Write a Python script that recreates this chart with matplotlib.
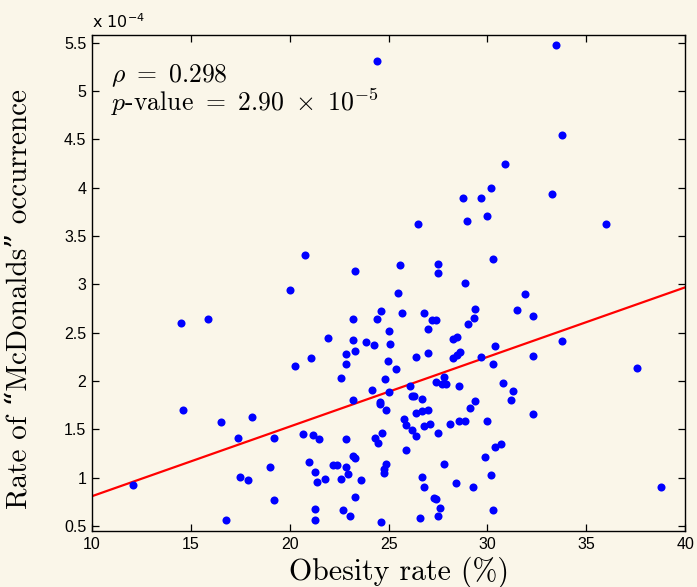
import matplotlib
matplotlib.use("Agg")
import matplotlib.pyplot as plt
import numpy as np
from matplotlib.ticker import FuncFormatter

# obesity rate (%) and "McDonalds" rate (in units of 1e-4)
obesity = [
    24.39, 33.48, 33.79, 30.89, 30.18, 28.78, 29.69, 33.28, 26.48, 28.98,
    29.97, 35.98, 30.29, 23.28, 25.59, 27.48, 27.48, 28.89, 25.50, 31.88,
    20.78, 19.99,
    23.18, 24.60, 24.39, 25.67, 26.79, 27.21, 27.39, 26.99, 25.00, 25.08,
    23.87, 24.27, 23.18, 23.28, 22.87, 22.87, 24.98, 26.38, 26.99, 28.27,
    28.47, 29.00, 29.30, 29.38, 31.49, 32.29, 28.61, 28.47, 28.27, 30.38,
    29.69, 30.28, 32.29, 33.79, 37.58, 38.78, 25.38, 24.80, 25.00, 26.08,
    26.19, 26.31, 26.69, 27.38, 27.68, 27.80, 27.90, 28.57, 30.78, 31.28,
    31.17, 29.38, 29.10, 32.29, 24.58, 24.58, 24.88, 23.18, 25.79, 25.89,
    26.38, 26.69, 26.99, 26.79, 27.09, 26.18, 26.38, 27.48, 28.09, 28.57,
    28.88, 29.97, 25.89, 24.29, 24.49, 24.68, 22.87, 23.18, 23.28, 22.87,
    22.97, 22.60, 23.58, 24.78, 24.88, 24.78, 23.28, 22.67, 23.04, 24.60,
    26.69, 26.79, 27.29, 27.41, 27.58, 27.48, 26.58, 27.80, 28.39, 29.29,
    29.87, 30.18, 30.29, 30.38, 30.69, 22.57, 24.17,
    14.49, 15.88, 21.96, 21.10, 20.28, 14.59, 16.50, 18.08, 17.39, 19.20,
    20.68, 21.18, 21.49, 18.99, 20.98, 22.17, 22.37, 17.49, 17.88, 21.30,
    21.39, 21.79, 19.20, 21.30, 21.30, 16.79, 12.09,
]
rate_e4 = [
    5.31, 5.48, 4.55, 4.25, 4.00, 3.89, 3.89, 3.94, 3.63, 3.66,
    3.71, 3.62, 3.26, 3.14, 3.20, 3.21, 3.12, 3.02, 2.91, 2.90,
    3.30, 2.94,
    2.64, 2.73, 2.64, 2.70, 2.70, 2.63, 2.63, 2.54, 2.52, 2.38,
    2.40, 2.37, 2.43, 2.31, 2.28, 2.18, 2.21, 2.25, 2.29, 2.44,
    2.46, 2.59, 2.65, 2.75, 2.74, 2.67, 2.30, 2.27, 2.24, 2.36,
    2.25, 2.18, 2.26, 2.42, 2.14, 0.91, 2.13, 2.02, 1.89, 1.95,
    1.85, 1.85, 1.82, 1.99, 1.97, 2.04, 1.97, 1.95, 1.98, 1.90,
    1.81, 1.79, 1.72, 1.66, 1.78, 1.76, 1.70, 1.81, 1.61, 1.55,
    1.67, 1.69, 1.70, 1.54, 1.56, 1.49, 1.43, 1.46, 1.56, 1.59,
    1.59, 1.59, 1.29, 1.41, 1.36, 1.46, 1.40, 1.23, 1.21, 1.11,
    1.04, 0.99, 0.98, 1.09, 1.14, 1.05, 0.80, 0.67, 0.60, 0.54,
    1.01, 0.90, 0.79, 0.78, 0.69, 0.61, 0.58, 1.14, 0.95, 0.91,
    1.22, 1.03, 0.67, 1.32, 1.35, 2.03, 1.91,
    2.60, 2.64, 2.45, 2.24, 2.16, 1.70, 1.58, 1.63, 1.41, 1.41,
    1.45, 1.44, 1.40, 1.11, 1.16, 1.13, 1.13, 1.01, 0.98, 1.06,
    0.96, 0.99, 0.77, 0.68, 0.56, 0.56, 0.93,
]

# least-squares line (units of 1e-4)
fit_intercept = 0.09
fit_slope = 0.072

rho_text = r"$\rho\ =\ 0.298$"
pval_text = r"$p$-value $=\ 2.90\ \times\ 10^{-5}$"

x_ticks = [10, 15, 20, 25, 30, 35, 40]
y_ticks = [0.5, 1, 1.5, 2, 2.5, 3, 3.5, 4, 4.5, 5, 5.5]

paper = "#faf6e9"
plt.rcParams["mathtext.fontset"] = "cm"
label_font = ["cmr10", "DejaVu Serif"]

fig = plt.figure(figsize=(6.97, 5.87), dpi=100, facecolor=paper)
ax = fig.add_axes([0.132, 0.0954, 0.851, 0.845])
ax.set_facecolor(paper)

ax.plot(obesity, rate_e4, "o", color="#0000ff", markersize=5.8, markeredgewidth=0, zorder=3)

line_x = np.array([10, 40])
ax.plot(line_x, fit_intercept + fit_slope * line_x, color="#ff0000", linewidth=1.6, zorder=2)

ax.set_xlim(10, 40)
ax.set_ylim(0.45, 5.58)
ax.set_xticks(x_ticks)
ax.set_yticks(y_ticks)
ax.yaxis.set_major_formatter(FuncFormatter(lambda v, p: f"{v:g}"))
ax.tick_params(direction="in", top=True, right=True, length=5, width=0.9,
               labelsize=11.5, pad=4)
for lab in ax.get_xticklabels() + ax.get_yticklabels():
    lab.set_family("Liberation Sans")
for sp in ax.spines.values():
    sp.set_linewidth(1.0)

ax.set_xlabel("Obesity rate (%)", family=label_font, fontsize=21.5)
ax.set_ylabel("Rate of \u201cMcDonalds\u201d occurrence", family=label_font, fontsize=21)
ax.xaxis.set_label_coords(0.517, -0.052)
ax.yaxis.set_label_coords(-0.1, 0.468)

ax.text(0.032, 0.905, rho_text, transform=ax.transAxes, fontsize=18.5,
        family=label_font, va="baseline")
ax.text(0.032, 0.847, pval_text, transform=ax.transAxes, fontsize=18.5,
        family=label_font, va="baseline")

# MATLAB style exponent above the y axis
fig.text(0.132, 0.952, r"x 10$^{-4}$", fontsize=11.5, math_fontfamily="dejavusans",
         va="baseline")

fig.savefig("out.png", dpi=100, facecolor=paper)
